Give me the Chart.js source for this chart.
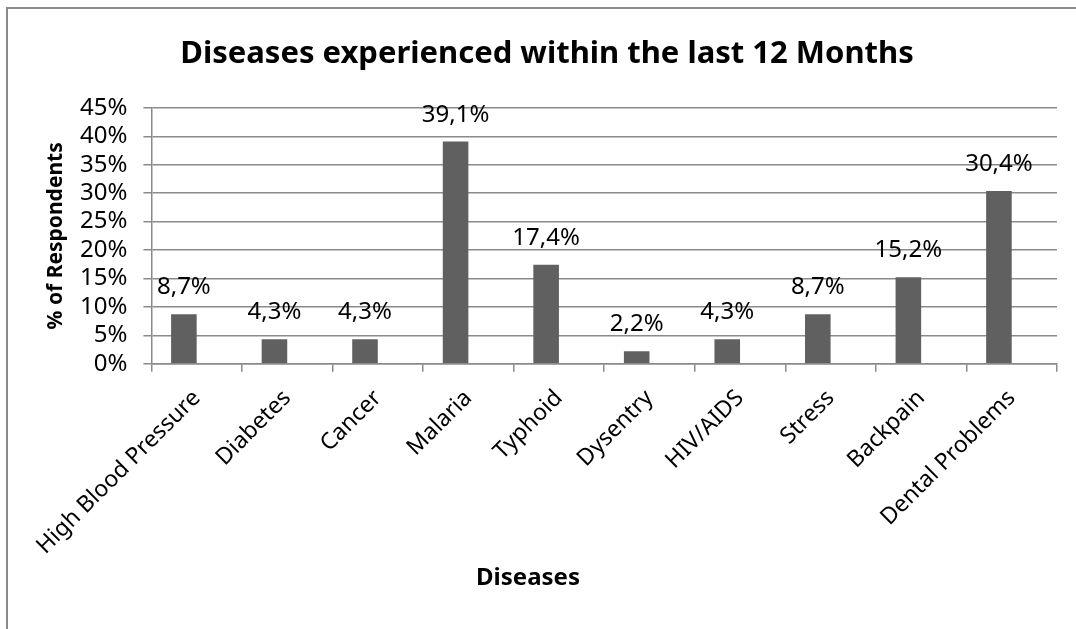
<!DOCTYPE html>
<html>
<head>
<meta charset="utf-8">
<script src="https://cdn.jsdelivr.net/npm/chart.js@4.4.1/dist/chart.umd.min.js"></script>
<style>
  html, body { margin: 0; padding: 0; background: #fff; }
  #wrap { position: relative; width: 1076px; height: 629px; }
</style>
</head>
<body>
<div id="wrap"><canvas id="chart" width="1076" height="629"></canvas></div>
<script>
const diseases = ['High Blood Pressure', 'Diabetes', 'Cancer', 'Malaria', 'Typhoid',
                  'Dysentry', 'HIV/AIDS', 'Stress', 'Backpain', 'Dental Problems'];
const respondentsPct = [8.7, 4.3, 4.3, 39.1, 17.4, 2.2, 4.3, 8.7, 15.2, 30.4];
const yTicks = [0, 5, 10, 15, 20, 25, 30, 35, 40, 45];

const chartTitle = 'Diseases experienced within the last 12 Months';
const xTitle = 'Diseases';
const yTitle = '% of Respondents';

const FONT = "'Noto Sans', 'Open Sans', sans-serif";
const GRID = '#8a8a8a';
const BAR = '#606060';

// frame, title, axis titles and value labels
const decorations = {
    id: 'decorations',
    beforeDraw(chart) {
        const ctx = chart.ctx;
        ctx.save();
        ctx.strokeStyle = '#8a8a8a';
        ctx.lineWidth = 2;
        ctx.strokeRect(7, 8, 1100, 700);
        ctx.restore();
    },
    afterDatasetsDraw(chart) {
        const ctx = chart.ctx;
        const area = chart.chartArea;
        ctx.save();
        ctx.fillStyle = '#000';

        // value labels above the bars
        ctx.font = '24px ' + FONT;
        ctx.textAlign = 'center';
        ctx.textBaseline = 'alphabetic';
        chart.getDatasetMeta(0).data.forEach((bar, i) => {
            const v = respondentsPct[i];
            ctx.fillText(v.toFixed(1).replace('.', ',') + '%', bar.x, bar.y - 20);
        });

        // main title
        ctx.font = 'bold 31px ' + FONT;
        ctx.fillText(chartTitle, 547, 63);

        // x axis title
        ctx.font = 'bold 24px ' + FONT;
        ctx.fillText(xTitle, 528, 585);

        // y axis title
        ctx.font = 'bold 21px ' + FONT;
        ctx.translate(62, (area.top + area.bottom) / 2);
        ctx.rotate(-Math.PI / 2);
        ctx.fillText(yTitle, 0, 0);
        ctx.restore();
    }
};

new Chart(document.getElementById('chart'), {
    type: 'bar',
    data: {
        labels: diseases,
        datasets: [{
            label: '% of Respondents',
            data: respondentsPct,
            backgroundColor: BAR,
            borderWidth: 0,
            barPercentage: 1,
            categoryPercentage: 0.565
        }, {
            // second (empty) series keeps the bars left of the category centre
            label: '',
            data: [],
            backgroundColor: BAR,
            barPercentage: 1,
            categoryPercentage: 0.565
        }]
    },
    options: {
        responsive: false,
        animation: false,
        layout: {
            padding: { top: 108, right: 19, bottom: 56, left: 64 }
        },
        plugins: {
            legend: { display: false },
            title: { display: false },
            tooltip: { enabled: false }
        },
        scales: {
            x: {
                grid: {
                    drawOnChartArea: false,
                    drawTicks: true,
                    tickLength: 8,
                    color: GRID,
                    lineWidth: 1.5
                },
                border: { color: GRID, width: 1.5 },
                ticks: {
                    color: '#000',
                    font: { family: FONT, size: 23 },
                    minRotation: 45,
                    maxRotation: 45,
                    autoSkip: false,
                    padding: 13
                }
            },
            y: {
                min: 0,
                max: 45,
                afterBuildTicks(scale) {
                    scale.ticks = yTicks.map(v => ({ value: v }));
                },
                grid: {
                    color: GRID,
                    lineWidth: 1.5,
                    tickLength: 8
                },
                border: { color: GRID, width: 1.5 },
                ticks: {
                    color: '#000',
                    font: { family: FONT, size: 24 },
                    padding: 16,
                    autoSkip: false,
                    callback: v => v + '%'
                }
            }
        }
    },
    plugins: [decorations]
});
</script>
</body>
</html>
